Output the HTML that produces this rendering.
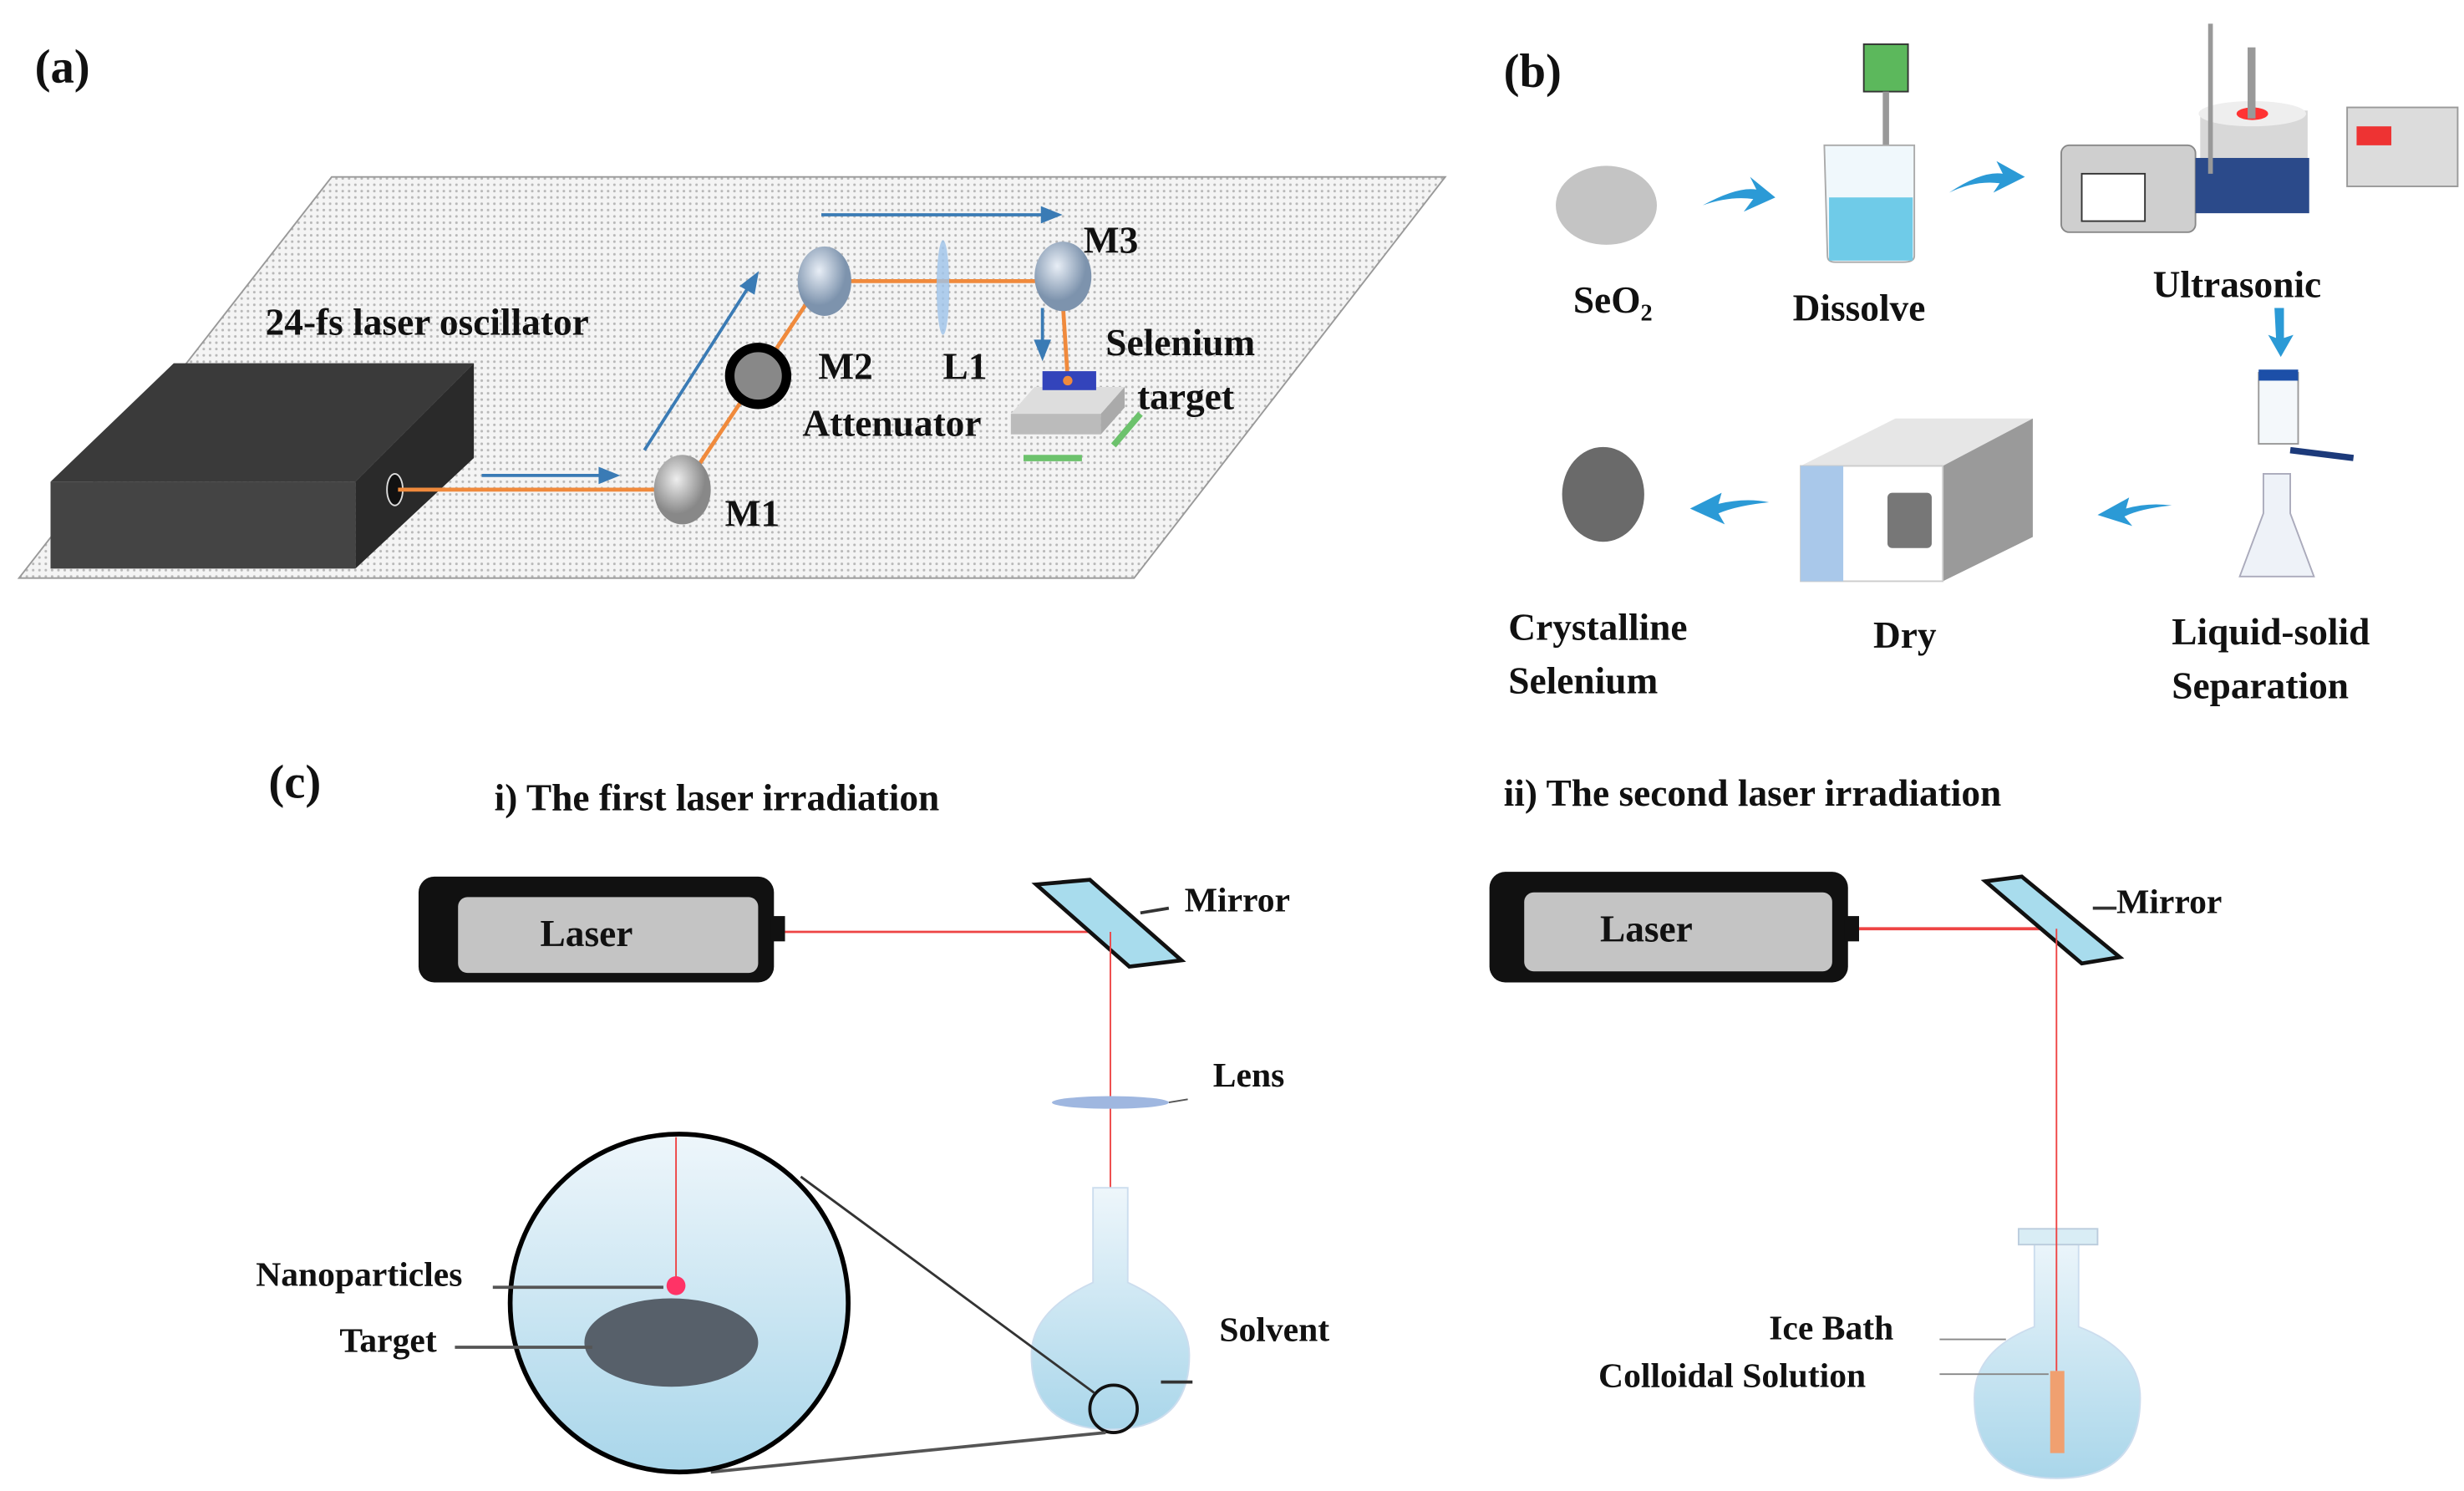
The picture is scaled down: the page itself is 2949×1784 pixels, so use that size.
<!DOCTYPE html>
<html><head><meta charset="utf-8"><style>
html,body{margin:0;padding:0;background:#fff;}
svg{display:block;}
svg text{font-family:"Liberation Serif","Times New Roman","DejaVu Serif",serif !important;font-weight:bold;fill:#111;}
</style></head><body>
<svg width="2949" height="1784" viewBox="0 0 1560 944" preserveAspectRatio="none" xmlns="http://www.w3.org/2000/svg" font-family="Liberation Serif, serif">
<defs>
<pattern id="dots" width="4" height="4" patternUnits="userSpaceOnUse"><rect width="4" height="4" fill="#f4f4f4"/><circle cx="1" cy="1" r="0.8" fill="#b8b8b8"/></pattern>
<radialGradient id="mg" cx="40%" cy="35%"><stop offset="0" stop-color="#e8eef6"/><stop offset="1" stop-color="#7d93ad"/></radialGradient>
<radialGradient id="gg" cx="40%" cy="35%"><stop offset="0" stop-color="#eee"/><stop offset="1" stop-color="#888"/></radialGradient>
<linearGradient id="fl" x1="0" y1="0" x2="0" y2="1"><stop offset="0" stop-color="#eef6fb"/><stop offset="1" stop-color="#a9d6ea"/></linearGradient>
</defs>
<!-- (a) -->
<text x="22" y="52" font-size="30">(a)</text>
<polygon points="12,366 210,112 915,112 718,366" fill="url(#dots)" stroke="#999" stroke-width="1"/>
<polygon points="32,305 110,230 300,230 225,305" fill="#3a3a3a"/>
<polygon points="225,305 300,230 300,290 225,360" fill="#2a2a2a"/>
<rect x="32" y="305" width="193" height="55" fill="#444"/>
<ellipse cx="250" cy="310" rx="5" ry="10" fill="#111" stroke="#ddd"/>
<polyline points="252,310 432,310 520,178 672,178 676,240" fill="none" stroke="#f08a3c" stroke-width="2.5"/>
<g stroke="#3a7bb5" stroke-width="2" fill="#3a7bb5">
<line x1="305" y1="301" x2="385" y2="301"/><polygon points="390,301 380,297 380,305"/>
<line x1="408" y1="285" x2="475" y2="180"/><polygon points="479,174 470,181 477,185"/>
<line x1="520" y1="136" x2="664" y2="136"/><polygon points="670,136 660,132 660,140"/>
<line x1="660" y1="195" x2="660" y2="220"/><polygon points="660,226 656,216 664,216"/>
</g>
<ellipse cx="432" cy="310" rx="18" ry="22" fill="url(#gg)"/>
<ellipse cx="522" cy="178" rx="17" ry="22" fill="url(#mg)"/>
<circle cx="480" cy="238" r="18" fill="#888" stroke="#000" stroke-width="6"/>
<ellipse cx="597" cy="182" rx="4" ry="30" fill="#9ec3ea" opacity="0.8"/>
<ellipse cx="673" cy="175" rx="18" ry="22" fill="url(#mg)"/>
<polygon points="640,262 655,245 712,245 697,262" fill="#ddd"/>
<rect x="640" y="262" width="57" height="13" fill="#bbb"/><polygon points="697,262 712,245 712,258 697,275" fill="#aaa"/>
<rect x="660" y="235" width="34" height="12" fill="#3344bb"/>
<circle cx="676" cy="241" r="3" fill="#f08a3c"/>
<line x1="648" y1="290" x2="685" y2="290" stroke="#6cc26c" stroke-width="4"/>
<line x1="705" y1="282" x2="722" y2="262" stroke="#6cc26c" stroke-width="4"/>
<g font-size="24">
<text x="168" y="212">24-fs laser oscillator</text>
<text x="459" y="333">M1</text><text x="518" y="240">M2</text><text x="597" y="240">L1</text>
<text x="508" y="276">Attenuator</text><text x="686" y="160">M3</text>
<text x="700" y="225">Selenium</text><text x="720" y="259">target</text>
</g>
<!-- (b) -->
<text x="952" y="55" font-size="30">(b)</text>
<ellipse cx="1017" cy="130" rx="32" ry="25" fill="#c4c4c4"/>
<ellipse cx="1015" cy="313" rx="26" ry="30" fill="#6a6a6a"/>
<g fill="#2b9ad6">
<path d="M1078,130 Q1100,118 1112,120 L1108,112 L1124,125 L1104,134 L1110,126 Q1095,124 1078,130Z"/>
<path d="M1234,122 Q1255,108 1268,110 L1264,102 L1282,112 L1262,122 L1266,116 Q1250,114 1234,122Z"/>
<path d="M1440,195 L1446,195 L1446,214 L1452,212 L1444,226 L1436,212 L1441,214Z"/>
<path d="M1375,320 Q1355,322 1345,327 L1350,333 L1328,326 L1348,315 L1346,322 Q1360,318 1375,320Z"/>
<path d="M1120,318 Q1100,320 1088,325 L1092,332 L1070,322 L1090,312 L1088,319 Q1105,315 1120,318Z"/>
</g>
<!-- beaker -->
<rect x="1180" y="28" width="28" height="30" fill="#5cb85c" stroke="#333"/><rect x="1192" y="58" width="4" height="95" fill="#999"/>
<path d="M1155,92 L1212,92 L1212,162 Q1212,166 1205,166 L1162,166 Q1157,166 1157,162Z" fill="#f0f8fc" stroke="#aaa"/>
<rect x="1158" y="125" width="53" height="40" fill="#6fcbe8"/>
<!-- ultrasonic -->
<rect x="1305" y="92" width="85" height="55" rx="5" fill="#cfcfcf" stroke="#888"/>
<rect x="1318" y="110" width="40" height="30" fill="#fff" stroke="#333"/>
<rect x="1393" y="70" width="68" height="62" fill="#d8d8d8"/><rect x="1390" y="100" width="72" height="35" fill="#2b4a8a"/>
<ellipse cx="1426" cy="72" rx="34" ry="8" fill="#eee"/><ellipse cx="1426" cy="72" rx="10" ry="4" fill="#f33"/>
<rect x="1398" y="15" width="3" height="95" fill="#999"/><rect x="1423" y="30" width="5" height="45" fill="#999"/>
<rect x="1486" y="68" width="70" height="50" fill="#dcdcdc" stroke="#999"/><rect x="1492" y="80" width="22" height="12" fill="#e33"/>
<!-- filter -->
<rect x="1430" y="236" width="25" height="45" fill="#f4f8fb" stroke="#999"/><rect x="1430" y="234" width="25" height="7" fill="#1c4fa8"/>
<path d="M1433,300 L1450,300 L1450,325 L1465,365 L1418,365 L1433,325Z" fill="#eef2f8" stroke="#aab"/>
<path d="M1450,285 L1490,290" stroke="#1c3a7a" stroke-width="4"/>
<!-- oven -->
<polygon points="1140,295 1200,265 1287,265 1230,295" fill="#e6e6e6"/>
<polygon points="1230,295 1287,265 1287,340 1230,368" fill="#9a9a9a"/>
<rect x="1140" y="295" width="90" height="73" fill="#fff" stroke="#ccc"/><rect x="1140" y="295" width="27" height="73" fill="#a9c8ea"/>
<rect x="1195" y="312" width="28" height="35" rx="3" fill="#777"/>
<g font-size="24">
<text x="996" y="198">SeO<tspan font-size="15" dy="5">2</tspan></text>
<text x="1135" y="203">Dissolve</text><text x="1363" y="188">Ultrasonic</text>
<text x="1375" y="408">Liquid-solid</text><text x="1375" y="442">Separation</text>
<text x="1186" y="410">Dry</text><text x="955" y="405">Crystalline</text><text x="955" y="439">Selenium</text>
</g>
<!-- (c) -->
<text x="170" y="505" font-size="30">(c)</text>
<text x="313" y="513" font-size="24">i) The first laser irradiation</text>
<text x="952" y="510" font-size="24">ii) The second laser irradiation</text>
<rect x="265" y="555" width="225" height="67" rx="10" fill="#111"/><rect x="290" y="568" width="190" height="48" rx="6" fill="#c4c4c4"/>
<rect x="488" y="580" width="9" height="16" fill="#111"/>
<text x="342" y="599" font-size="24">Laser</text>
<line x1="497" y1="590" x2="703" y2="590" stroke="#e44" stroke-width="1.5"/>
<polygon points="656,560 690,557 748,608 715,612" fill="#a8dced" stroke="#111" stroke-width="2.5"/>
<line x1="703" y1="590" x2="703" y2="895" stroke="#e44" stroke-width="1"/>
<line x1="722" y1="578" x2="740" y2="575" stroke="#333" stroke-width="2"/>
<text x="750" y="577" font-size="22">Mirror</text>
<ellipse cx="703" cy="698" rx="37" ry="4" fill="#9fb7e0"/><line x1="740" y1="698" x2="752" y2="696" stroke="#555"/>
<text x="768" y="688" font-size="22">Lens</text>
<path d="M692,752 L714,752 L714,812 Q753,830 753,858 Q753,905 703,905 Q653,905 653,858 Q653,830 692,812Z" fill="url(#fl)" stroke="#cde" />
<line x1="735" y1="875" x2="755" y2="875" stroke="#333" stroke-width="2"/>
<text x="772" y="849" font-size="22">Solvent</text>
<circle cx="705" cy="892" r="15" fill="none" stroke="#111" stroke-width="2"/>
<line x1="507" y1="745" x2="693" y2="882" stroke="#333" stroke-width="1.5"/>
<line x1="450" y1="932" x2="700" y2="907" stroke="#555" stroke-width="2"/>
<circle cx="430" cy="825" r="107" fill="url(#fl)" stroke="#000" stroke-width="3"/>
<line x1="428" y1="720" x2="428" y2="812" stroke="#e44" stroke-width="1"/>
<circle cx="428" cy="814" r="6" fill="#f36"/>
<ellipse cx="425" cy="850" rx="55" ry="28" fill="#57606a"/>
<line x1="312" y1="815" x2="420" y2="815" stroke="#555" stroke-width="2"/>
<line x1="288" y1="853" x2="375" y2="853" stroke="#555" stroke-width="2"/>
<text x="162" y="814" font-size="22">Nanoparticles</text><text x="215" y="856" font-size="22">Target</text>
<!-- ii -->
<rect x="943" y="552" width="227" height="70" rx="10" fill="#111"/><rect x="965" y="565" width="195" height="50" rx="6" fill="#c4c4c4"/>
<rect x="1168" y="580" width="9" height="16" fill="#111"/>
<text x="1013" y="596" font-size="24">Laser</text>
<line x1="1177" y1="588" x2="1302" y2="588" stroke="#e44" stroke-width="2"/>
<polygon points="1257,558 1280,555 1342,606 1318,610" fill="#a8dced" stroke="#111" stroke-width="2.5"/>
<line x1="1325" y1="575" x2="1340" y2="575" stroke="#333" stroke-width="2"/>
<text x="1340" y="578" font-size="22">Mirror</text>
<path d="M1288,780 L1316,780 L1316,840 Q1355,855 1355,885 Q1355,936 1302,936 Q1250,936 1250,885 Q1250,855 1288,840Z" fill="url(#fl)" stroke="#cde"/>
<rect x="1278" y="778" width="50" height="10" fill="#d9edf5" stroke="#bcd"/>
<line x1="1302" y1="588" x2="1302" y2="868" stroke="#e44" stroke-width="1"/>
<rect x="1298" y="868" width="9" height="52" fill="#f0a070"/>
<line x1="1228" y1="848" x2="1270" y2="848" stroke="#888"/><line x1="1228" y1="870" x2="1297" y2="870" stroke="#888"/>
<text x="1120" y="848" font-size="22">Ice Bath</text><text x="1012" y="878" font-size="22">Colloidal Solution</text>
</svg>
</body></html>
